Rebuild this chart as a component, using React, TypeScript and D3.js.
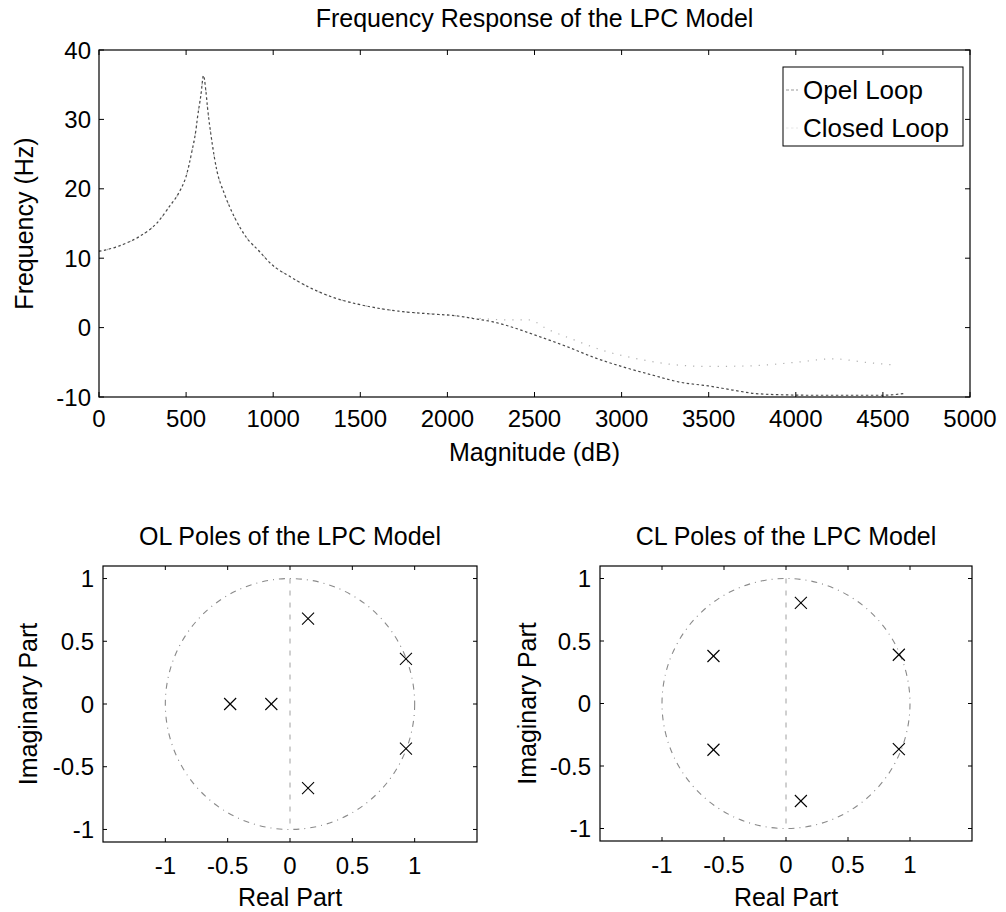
import React from 'react';
import * as d3 from 'd3';

// ---- Top chart data ----
const magX = [0, 40, 130, 230, 330, 400, 460, 500, 535, 556, 565, 585, 600, 613, 623, 647, 676, 718, 776, 843, 920, 987, 1100, 1207, 1350, 1500, 1650, 1745, 1915, 2050, 2150, 2256, 2362, 2500, 2682, 2852, 3000, 3171, 3342, 3497, 3638, 3767, 3948, 4100, 4300, 4500, 4620];
const closedLoop = [11.0, 11.2, 11.9, 13.1, 15.0, 17.3, 19.5, 21.8, 25.6, 28.4, 30.2, 33.5, 36.3, 34.2, 31.7, 27.0, 22.7, 19.4, 16.0, 13.1, 11.0, 9.2, 7.3, 5.8, 4.3, 3.3, 2.6, 2.3, 1.95, 1.7, 1.3, 0.86, 0.14, -1.05, -2.7, -4.4, -5.6, -6.8, -7.9, -8.4, -9.0, -9.5, -9.7, -9.75, -9.75, -9.75, -9.5];
const openX = [0, 40, 130, 230, 330, 400, 460, 500, 535, 556, 565, 585, 600, 613, 623, 647, 676, 718, 776, 843, 920, 987, 1100, 1207, 1350, 1500, 1650, 1745, 1915, 2050, 2150, 2256, 2362, 2469, 2575, 2700, 2906, 3092, 3254, 3500, 3750, 4000, 4215, 4400, 4568];
const openLoop = [11.0, 11.2, 11.9, 13.1, 15.0, 17.3, 19.5, 21.8, 25.6, 28.4, 30.2, 33.5, 36.3, 34.2, 31.7, 27.0, 22.7, 19.4, 16.0, 13.1, 11.0, 9.2, 7.3, 5.8, 4.3, 3.3, 2.6, 2.3, 1.95, 1.7, 1.4, 1.2, 1.1, 1.1, -0.24, -1.5, -3.4, -4.5, -5.2, -5.6, -5.5, -5.0, -4.5, -5.0, -5.4];
const topXTicks = [0, 500, 1000, 1500, 2000, 2500, 3000, 3500, 4000, 4500, 5000];
const topYTicks = [-10, 0, 10, 20, 30, 40];
const legendLabels = ['Opel Loop', 'Closed Loop'];

// ---- Pole data ----
const olRe = [0.145, 0.145, 0.93, 0.93, -0.48, -0.15];
const olIm = [0.68, -0.67, 0.36, -0.355, 0, 0];
const clRe = [0.12, 0.12, 0.91, 0.91, -0.585, -0.585];
const clIm = [0.805, -0.78, 0.39, -0.365, 0.38, -0.37];
const poleTicks = [-1, -0.5, 0, 0.5, 1];

const FONT = "'Liberation Sans', Arial, Helvetica, sans-serif";
const TICK_FS = 24;
const LABEL_FS = 25;

function TopChart() {
  const L = 99, R = 970, T = 50, B = 397;
  const x = d3.scaleLinear().domain([0, 5000]).range([L, R]);
  const y = d3.scaleLinear().domain([-10, 40]).range([B, T]);
  const cl = d3.line<[number, number]>().x(d => x(d[0])).y(d => y(d[1])).curve(d3.curveMonotoneX);
  const closedPts: [number, number][] = magX.map((v, i) => [v, closedLoop[i]]);
  const openPts: [number, number][] = openX.map((v, i) => [v, openLoop[i]]);
  const tl = 5;
  return (
    <g>
      <text x={(L + R) / 2} y={27} textAnchor="middle" fontSize={LABEL_FS} fontFamily={FONT}>Frequency Response of the LPC Model</text>
      <path d={cl(openPts) || ''} fill="none" stroke="#b0b0b0" strokeWidth={1.2} strokeDasharray="1.2,7" />
      <path d={cl(closedPts) || ''} fill="none" stroke="#4a4a4a" strokeWidth={1.2} strokeDasharray="2.5,2.5" />
      <rect x={L} y={T} width={R - L} height={B - T} fill="none" stroke="#000" strokeWidth={1.2} />
      {topXTicks.map(t => (
        <g key={'xt' + t}>
          <line x1={x(t)} x2={x(t)} y1={B} y2={B - tl} stroke="#000" />
          <line x1={x(t)} x2={x(t)} y1={T} y2={T + tl} stroke="#000" />
          <text x={x(t)} y={B + 30} textAnchor="middle" fontSize={TICK_FS} fontFamily={FONT}>{t}</text>
        </g>
      ))}
      {topYTicks.map(t => (
        <g key={'yt' + t}>
          <line x1={L} x2={L + tl} y1={y(t)} y2={y(t)} stroke="#000" />
          <line x1={R} x2={R - tl} y1={y(t)} y2={y(t)} stroke="#000" />
          <text x={L - 8} y={y(t) + 8.5} textAnchor="end" fontSize={TICK_FS} fontFamily={FONT}>{t}</text>
        </g>
      ))}
      <text x={(L + R) / 2} y={461} textAnchor="middle" fontSize={LABEL_FS} fontFamily={FONT}>Magnitude (dB)</text>
      <text transform={`translate(${33},${(T + B) / 2}) rotate(-90)`} textAnchor="middle" fontSize={LABEL_FS} fontFamily={FONT}>Frequency (Hz)</text>
      {/* legend */}
      <rect x={783} y={67} width={180} height={79} fill="#fff" stroke="#000" strokeWidth={1} />
      <line x1={786} x2={798} y1={90} y2={90} stroke="#9a9a9a" strokeWidth={1.2} strokeDasharray="3,2" />
      <line x1={786} x2={798} y1={128} y2={128} stroke="#e6e6e6" strokeWidth={1} strokeDasharray="2.5,2.5" />
      {legendLabels.map((s, i) => (
        <text key={s} x={803} y={99 + i * 38} fontSize={26} fontFamily={FONT}>{s}</text>
      ))}
    </g>
  );
}

function PoleChart({ L, R, T, B, re, im, title, labelX }: { L: number; R: number; T: number; B: number; re: number[]; im: number[]; title: string; labelX: number }) {
  const x = d3.scaleLinear().domain([-1.5, 1.5]).range([L, R]);
  const y = d3.scaleLinear().domain([-1.1, 1.1]).range([B, T]);
  const tl = 4;
  const m = 6;
  return (
    <g>
      <text x={(L + R) / 2} y={545} textAnchor="middle" fontSize={LABEL_FS} fontFamily={FONT}>{title}</text>
      <ellipse cx={x(0)} cy={y(0)} rx={x(1) - x(0)} ry={y(0) - y(1)} fill="none" stroke="#8a8a8a" strokeWidth={1.1} strokeDasharray="6,5,1,5" />
      <line x1={x(0)} x2={x(0)} y1={y(1)} y2={y(-1)} stroke="#a0a0a0" strokeWidth={1} strokeDasharray="5,7" />
      {re.map((r, i) => (
        <g key={i} stroke="#000" strokeWidth={1.1}>
          <line x1={x(r) - m} x2={x(r) + m} y1={y(im[i]) - m} y2={y(im[i]) + m} />
          <line x1={x(r) - m} x2={x(r) + m} y1={y(im[i]) + m} y2={y(im[i]) - m} />
        </g>
      ))}
      <rect x={L} y={T} width={R - L} height={B - T} fill="none" stroke="#000" strokeWidth={1.2} />
      {poleTicks.map(t => (
        <g key={'x' + t}>
          <line x1={x(t)} x2={x(t)} y1={B} y2={B - tl} stroke="#000" />
          <line x1={x(t)} x2={x(t)} y1={T} y2={T + tl} stroke="#000" />
          <text x={x(t)} y={B + 32} textAnchor="middle" fontSize={TICK_FS} fontFamily={FONT}>{t}</text>
        </g>
      ))}
      {poleTicks.map(t => (
        <g key={'y' + t}>
          <line x1={L} x2={L + tl} y1={y(t)} y2={y(t)} stroke="#000" />
          <line x1={R} x2={R - tl} y1={y(t)} y2={y(t)} stroke="#000" />
          <text x={L - 9} y={y(t) + 8.5} textAnchor="end" fontSize={TICK_FS} fontFamily={FONT}>{t}</text>
        </g>
      ))}
      <text x={(L + R) / 2} y={906} textAnchor="middle" fontSize={LABEL_FS} fontFamily={FONT}>Real Part</text>
      <text transform={`translate(${labelX},${(T + B) / 2}) rotate(-90)`} textAnchor="middle" fontSize={LABEL_FS} fontFamily={FONT}>Imaginary Part</text>
    </g>
  );
}

export default function App() {
  return (
    <svg width={1006} height={912} viewBox="0 0 1006 912" style={{ position: 'absolute', left: 0, top: 0, background: '#fff' }}>
      <rect x={0} y={0} width={1006} height={912} fill="#fff" />
      <TopChart />
      <PoleChart L={103} R={477} T={566} B={842} re={olRe} im={olIm} title="OL Poles of the LPC Model" labelX={37} />
      <PoleChart L={600} R={972} T={566} B={841} re={clRe} im={clIm} title="CL Poles of the LPC Model" labelX={536} />
    </svg>
  );
}
